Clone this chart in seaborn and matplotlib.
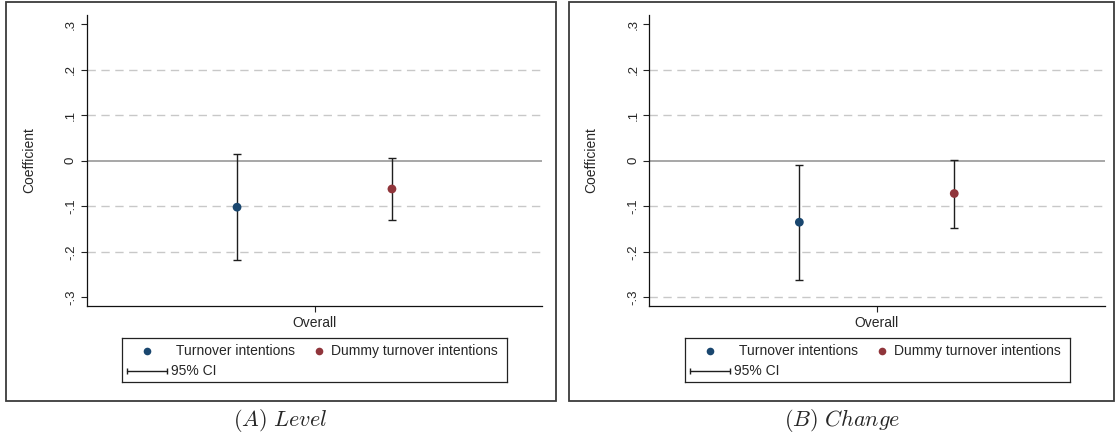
import numpy as np
import pandas as pd
import matplotlib
matplotlib.use('Agg')
import matplotlib.pyplot as plt
from matplotlib.patches import Rectangle
import seaborn as sns

panel_names = ['Level', 'Change']
captions = [r'$(A)\ Level$', r'$(B)\ Change$']
series = ['Turnover intentions', 'Dummy turnover intentions']
coef_level = [-0.102, -0.062]
lo_level = [-0.219, -0.131]
hi_level = [0.014, 0.007]
coef_change = [-0.135, -0.072]
lo_change = [-0.261, -0.147]
hi_change = [-0.010, 0.002]
category = 'Overall'
yticks = [-0.3, -0.2, -0.1, 0.0, 0.1, 0.2, 0.3]
ytick_labels = ['-.3', '-.2', '-.1', '0', '.1', '.2', '.3']
grid_level = [-0.2, -0.1, 0.1, 0.2]
grid_change = [-0.3, -0.2, -0.1, 0.1, 0.2]

colors = {series[0]: '#1a476f', series[1]: '#90353b'}
offsets = {series[0]: -0.17, series[1]: 0.17}

rows = []
for p, c, lo, hi in [('Level', coef_level, lo_level, hi_level),
                     ('Change', coef_change, lo_change, hi_change)]:
    for i, s in enumerate(series):
        rows.append(dict(panel=p, series=s, coef=c[i], lo=lo[i], hi=hi[i]))
df = pd.DataFrame(rows)
df['x'] = df['series'].map(offsets)

sns.set_theme(style='white')
plt.rcParams['font.family'] = ['Liberation Sans', 'DejaVu Sans']
plt.rcParams['mathtext.fontset'] = 'cm'

W, H = 1115, 434
fig = plt.figure(figsize=(W / 100, H / 100), dpi=100)

# pixel layout (left of axes, left of legend, panel box, caption centre)
ax_left = [86.7, 649]
leg_left = [122, 685]
box_x = [(6, 555.7), (569, 1114.3)]
cap_x = [280.8, 842]
grids = [grid_level, grid_change]

for k, p in enumerate(panel_names):
    ax = fig.add_axes([ax_left[k] / W, 1 - 306 / H, 455.6 / W, 291 / H])
    d = df[df.panel == p]
    for g in grids[k]:
        ax.axhline(g, color='#c8c8c8', lw=1.0, ls=(0, (6, 4)), zorder=1)
    ax.axhline(0, color='#8f8f8f', lw=1.1, zorder=1)
    ax.errorbar(d['x'], d['coef'], yerr=[d['coef'] - d['lo'], d['hi'] - d['coef']],
                fmt='none', ecolor='#1e1e1e', elinewidth=1.0, capsize=2.6, capthick=1.0, zorder=3)
    sns.scatterplot(data=d, x='x', y='coef', hue='series', palette=colors, s=40,
                    linewidth=0, legend=False, ax=ax, zorder=4)
    ax.set_xlim(-0.5, 0.5)
    ax.set_ylim(-0.319, 0.32)
    ax.set_xticks([0], [category], fontsize=10)
    ax.set_yticks(yticks, ytick_labels, rotation=90, va='center', fontsize=9.5)
    ax.tick_params(axis='both', direction='out', length=4, width=0.8, color='#222222',
                   bottom=True, left=True, pad=3)
    ax.set_xlabel('')
    ax.set_ylabel('Coefficient', fontsize=10)
    ax.yaxis.set_label_coords(-0.111, 0.5)
    for side in ['top', 'right']:
        ax.spines[side].set_visible(False)
    for side in ['left', 'bottom']:
        ax.spines[side].set_color('#111111')
        ax.spines[side].set_linewidth(0.9)

    # legend box drawn as its own axes in pixel units
    lax = fig.add_axes([leg_left[k] / W, 1 - 382.3 / H, 385.3 / W, 44.6 / H])
    lax.set_xlim(0, 385.3)
    lax.set_ylim(44.6, 0)
    lax.set_xticks([])
    lax.set_yticks([])
    for s in lax.spines.values():
        s.set_color('#222222')
        s.set_linewidth(0.9)
    lax.plot([24.7], [13], 'o', color=colors[series[0]], ms=5.5, mec='none')
    lax.text(54, 13.5, series[0], va='center', fontsize=10)
    lax.plot([197], [13], 'o', color=colors[series[1]], ms=5.5, mec='none')
    lax.text(209, 13.5, series[1], va='center', fontsize=10)
    lax.plot([4.7, 44.7], [33, 33], color='#1e1e1e', lw=1.0, marker='|', ms=5, mew=1.0)
    lax.text(48.7, 33.5, '95% CI', va='center', fontsize=10)

    x0, x1 = box_x[k]
    fig.patches.append(Rectangle((x0 / W, 1 - 400.7 / H), (x1 - x0) / W, 399 / H,
                                 transform=fig.transFigure, fill=False,
                                 ec='#3c3c3c', lw=1.3))
    fig.text(cap_x[k] / W, 1 - 421 / H, captions[k], ha='center', va='center', fontsize=16)

fig.savefig('out.png', dpi=100)
